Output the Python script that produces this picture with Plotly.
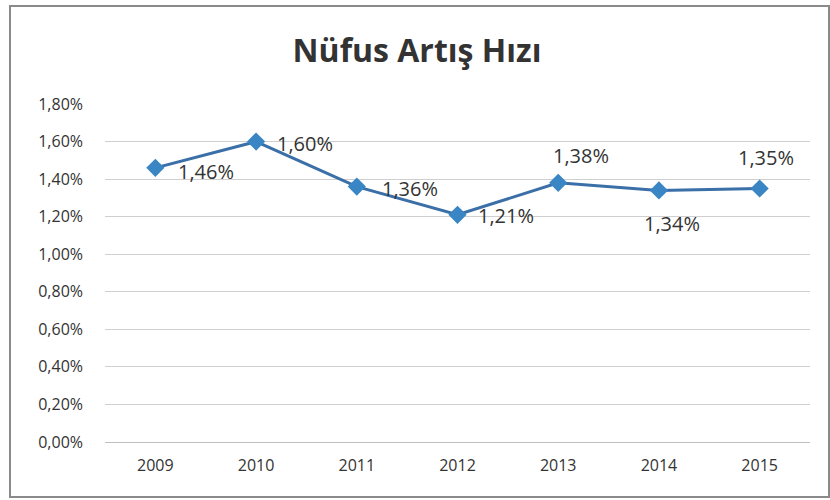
import plotly.graph_objects as go

years = [2009, 2010, 2011, 2012, 2013, 2014, 2015]
rates = [0.0146, 0.0160, 0.0136, 0.0121, 0.0138, 0.0134, 0.0135]
labels = ["1,46%", "1,60%", "1,36%", "1,21%", "1,38%", "1,34%", "1,35%"]
# label placement offsets (pixels) as in the reference
label_anchor = ["left", "left", "left", "left", "center", "center", "center"]
label_dx = [21, 19, 23, 18, 23, 13, 6]
label_dy = [-4, -2, -2, -1, 27, -33, 31]
y_ticks = [0.0, 0.002, 0.004, 0.006, 0.008, 0.010, 0.012, 0.014, 0.016, 0.018]

FONT = "Open Sans, Lato, sans-serif"

fig = go.Figure()
fig.add_trace(go.Scatter(
    x=years, y=rates, mode="lines+markers",
    line=dict(color="#3a6fa8", width=3),
    marker=dict(symbol="diamond", size=14, color="#3a86c4"),
    cliponaxis=False, showlegend=False,
))

for yr, v, t, a, dx, dy in zip(years, rates, labels, label_anchor, label_dx, label_dy):
    fig.add_annotation(x=yr, y=v, xref="x", yref="y", text=t, showarrow=False,
                       xanchor=a, yanchor="middle", xshift=dx, yshift=dy,
                       font=dict(family=FONT, size=20, color="#333333"))

L, R, T, B = 105, 20, 104, 58
pw = 830 - L - R
ph = 500 - T - B

def px(x):
    return (x - L) / pw

def py(y):
    return (500 - B - y) / ph

fig.update_layout(
    width=830, height=500,
    margin=dict(l=L, r=R, t=T, b=B),
    paper_bgcolor="white", plot_bgcolor="white",
    separators=",.",
    title=dict(text="<b>Nüfus Artış Hızı</b>", x=(415 - L + 2) / pw, xanchor="center",
               xref="paper",
               y=1 - 51 / 500, yanchor="middle",
               font=dict(family=FONT, size=32, color="#333333")),
    xaxis=dict(range=[years[0] - 0.5, years[-1] + 0.5], tickvals=years,
               ticktext=[str(y) for y in years],
               showgrid=False, showline=False, zeroline=False, ticks="",
               tickfont=dict(family=FONT, size=16, color="#333333"),
               ticklabelstandoff=12),
    yaxis=dict(range=[0, 0.018], tickvals=y_ticks, tickformat=".2%",
               showgrid=True, gridcolor="#cfcfcf", gridwidth=1,
               zeroline=True, zerolinecolor="#bfbfbf", zerolinewidth=1,
               showline=False, ticks="",
               tickfont=dict(family=FONT, size=16, color="#333333"),
               ticklabelstandoff=21),
    shapes=[
        dict(type="rect", xref="paper", yref="paper",
             x0=px(10), x1=px(829), y0=py(497), y1=py(6),
             line=dict(color="#8a8a8a", width=2), fillcolor="rgba(0,0,0,0)", layer="below"),
    ],
)

fig.write_html("out.html", config={"displayModeBar": False},
               post_script="document.body.style.margin='0';document.body.style.overflow='hidden';")
